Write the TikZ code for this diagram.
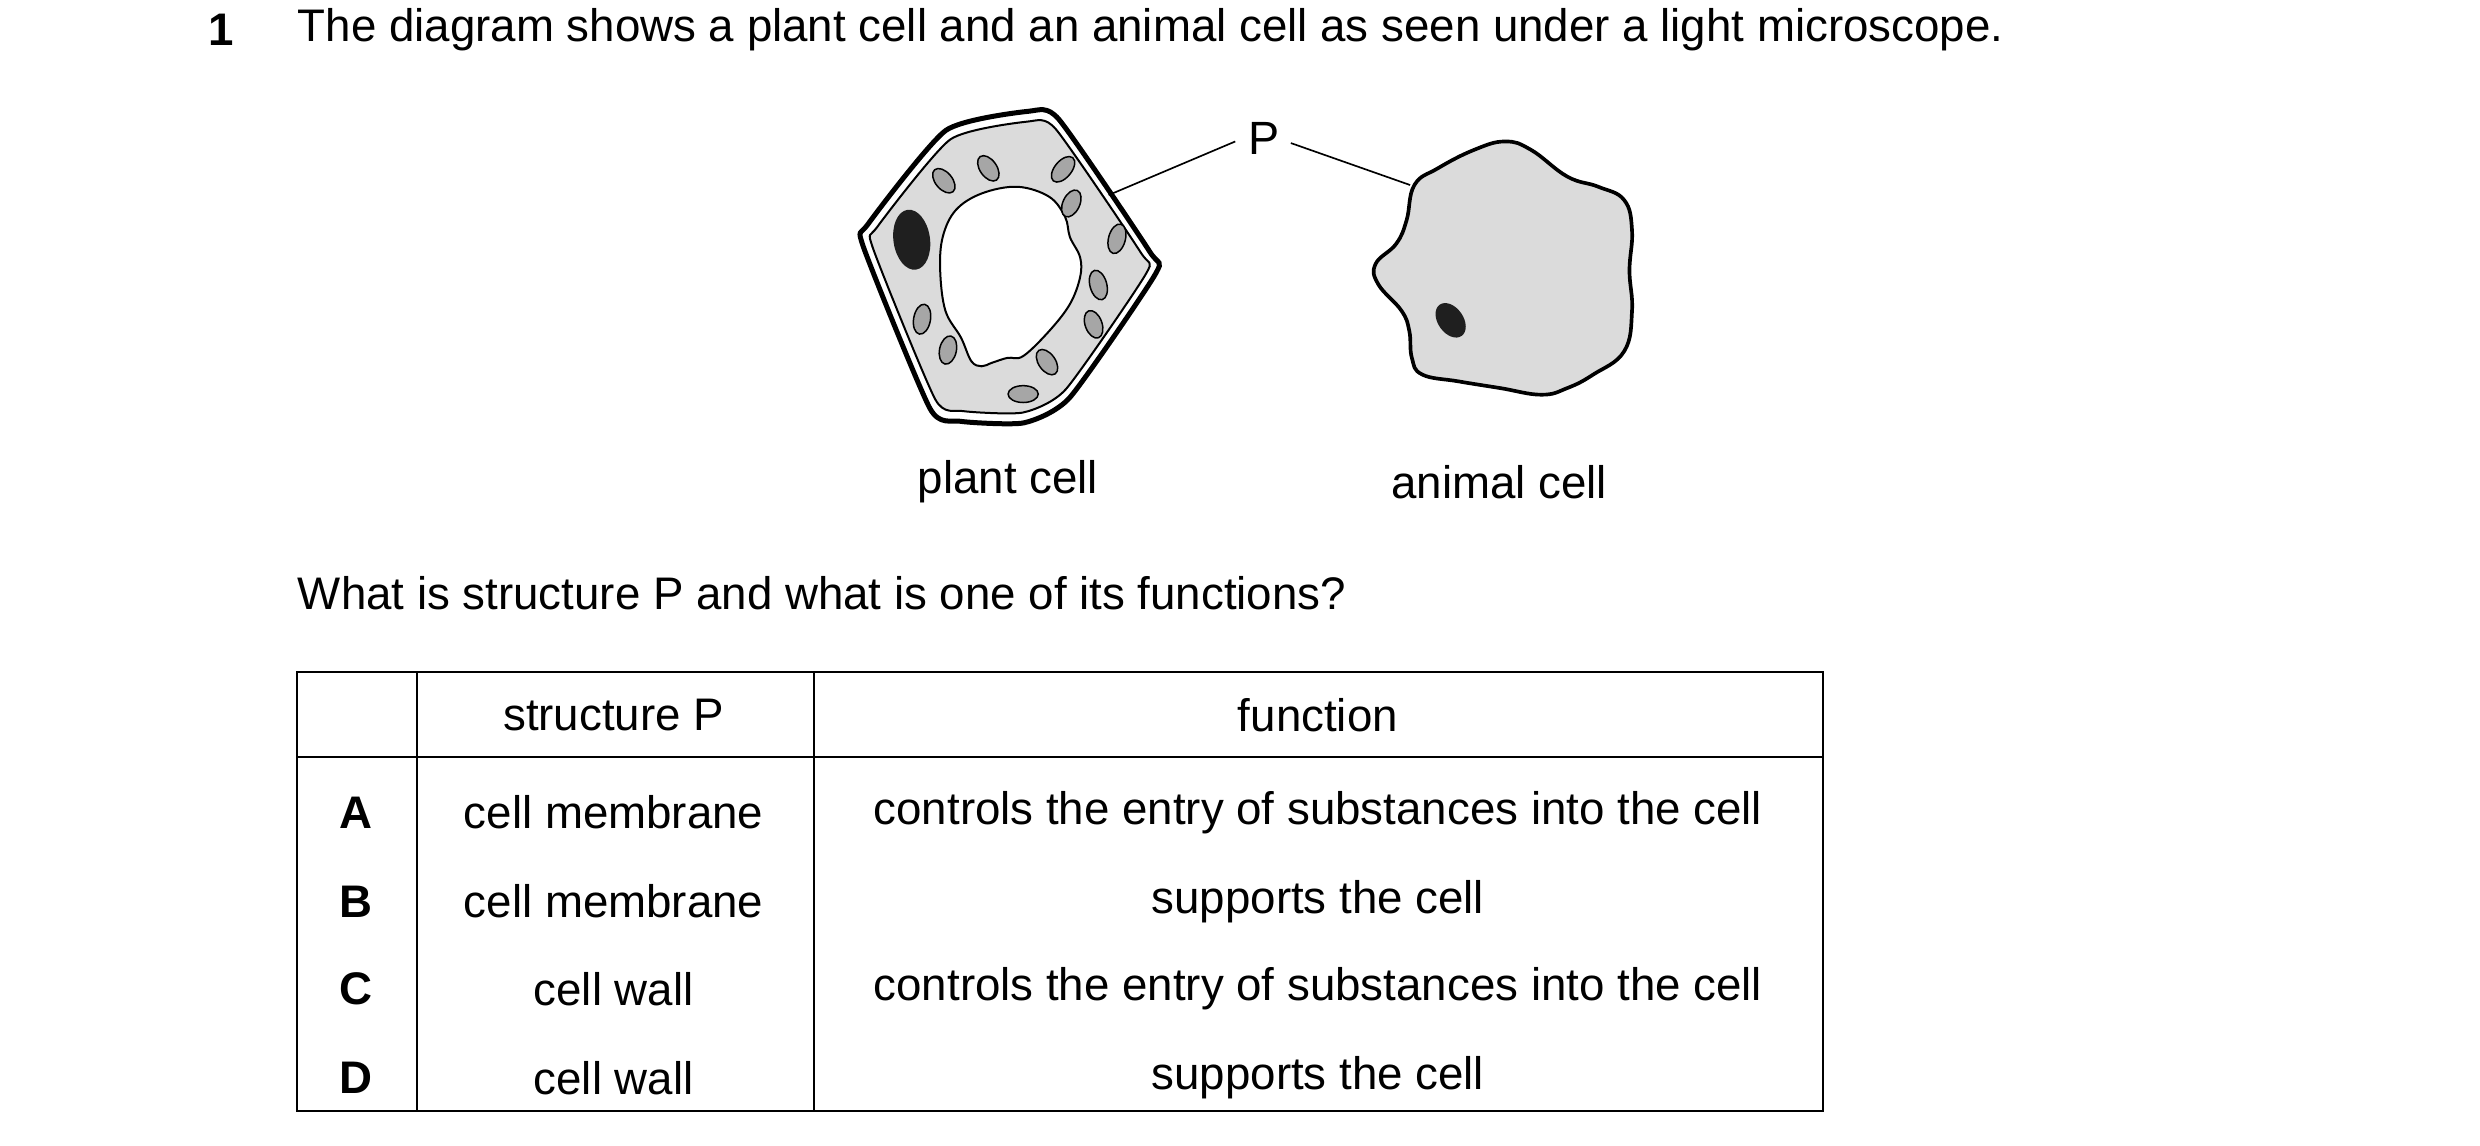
\documentclass[tikz,border=0pt]{standalone}
\usepackage{fontspec}
\setmainfont{Liberation Sans}
\begin{document}
\begin{tikzpicture}[x=0.477pt,y=-0.477pt,
  txt/.style={font=\fontsize{13.7}{16}\selectfont,inner sep=0pt},
  bold/.style={txt,font=\fontsize{13.7}{16}\selectfont\bfseries},
  tab/.style={line width=0.6pt},
  chl/.style={draw=black,line width=0.45pt,fill=black!35},
  ]
\useasboundingbox (0,0) rectangle (1560,720.87);
\definecolor{cyto}{gray}{0.86}
% question
\node[bold,anchor=west] (num) at (131,19) {1};
\node[txt,anchor=west] (q) at (187,19) {The diagram shows a plant cell and an animal cell as seen under a light microscope.};
% plant cell wall
\draw[line width=1.5pt] plot[smooth cycle,tension=0.35] coordinates {(647,70)(666,75)(723,158)(727,172)(673,250)(644,266)(604,265)(585,257)(543,155)(546,141)(595,82)};
% membrane + cytoplasm
\draw[line width=0.6pt,fill=cyto] plot[smooth cycle,tension=0.35] coordinates {(646.3,76.5)(664.1,81.2)(717.4,158.6)(721.1,171.8)(670.5,244.8)(643.5,259.5)(605.9,258.6)(588.3,251.2)(549,155.8)(551.8,142.8)(597.8,87.7)};
% vacuole
\draw[line width=0.6pt,fill=white] plot[smooth cycle,tension=0.6] coordinates {(640,117.5)(660,123.8)(670,136.5)(673,149.1)(679.4,161.8)(679.4,174.4)(673,191.3)(660,208.2)(643.6,224)(633.8,225.1)(624,228.2)(617.5,230.4)(611,227.2)(604.5,212.4)(594.7,195.5)(591.4,170.2)(593,149.1)(601.2,132.2)(617.5,121.7)};
% nucleus
\fill[black!88] (573.5,150.8) ellipse[x radius=11.5,y radius=19,rotate=8];
% chloroplasts
\foreach \x/\y/\a/\r in {593.7/113.7/40/9,621.7/105.9/35/9,668.7/106.5/-40/9.5,673.9/128/-25/9,702.6/150.2/-15/9.5,690.9/179.3/15/9.5,687.9/204/20/9,658.6/227.8/35/9,643.6/247.9/90/9.5,596.3/220.2/-12/9,580/200.8/-10/9.5}
  \draw[chl] (\x,\y) ellipse[x radius=5.3,y radius=\r,rotate=\a];
% animal cell
\draw[line width=1.1pt,fill=cyto] plot[smooth cycle,tension=0.7] coordinates {(889.7,116.4)(904.4,105.9)(927.2,94.3)(946.8,89)(963.1,94.3)(985.9,111.1)(1005.4,117.5)(1021.7,125.9)(1026.6,144.9)(1025,170.2)(1026.6,195.5)(1021.7,220.9)(1002.2,235.6)(985.9,244.1)(969.6,248.3)(943.5,244.1)(917.4,239.9)(894.6,235.6)(888.1,225.1)(886.5,208.2)(881.6,195.5)(866.9,178.7)(865.3,166)(878.3,153.3)(884.8,138.5)};
\fill[black!88] (912.5,201.5) ellipse[x radius=8,y radius=12,rotate=35];
% label P
\node[txt,font=\fontsize{14}{16}\selectfont] (P) at (795,87) {P};
\coordinate (pw) at (697.4,122.7);
\coordinate (am) at (887,116.4);
\draw[line width=0.5pt] (777,89)--(pw);
\draw[line width=0.5pt] (812,90)--(am);
\node[txt] (pl) at (634,303) {plant cell};
\node[txt] (an) at (943,303) {animal cell};
\node[txt,anchor=west] (q2) at (187,373) {What is structure P and what is one of its functions?};
% table
\draw[tab] (187,423) rectangle (1147,699);
\draw[tab] (187,476)--(1147,476);
\draw[tab] (262,423)--(262,699);
\draw[tab] (512,423)--(512,699);
\node[txt] (h2) at (386,450) {structure P};
\node[txt] (h3) at (829,450) {function};
\foreach \l/\y/\s/\f [count=\i] in {A/511/cell membrane/controls the entry of substances into the cell,B/567/cell membrane/supports the cell,C/622/cell wall/controls the entry of substances into the cell,D/678/cell wall/supports the cell}{
  \node[bold] (l\i) at (224,\y) {\l};
  \node[txt] (s\i) at (386,\y) {\s};
  \node[txt] (f\i) at (829,\y) {\f};
}
\end{tikzpicture}
\end{document}
